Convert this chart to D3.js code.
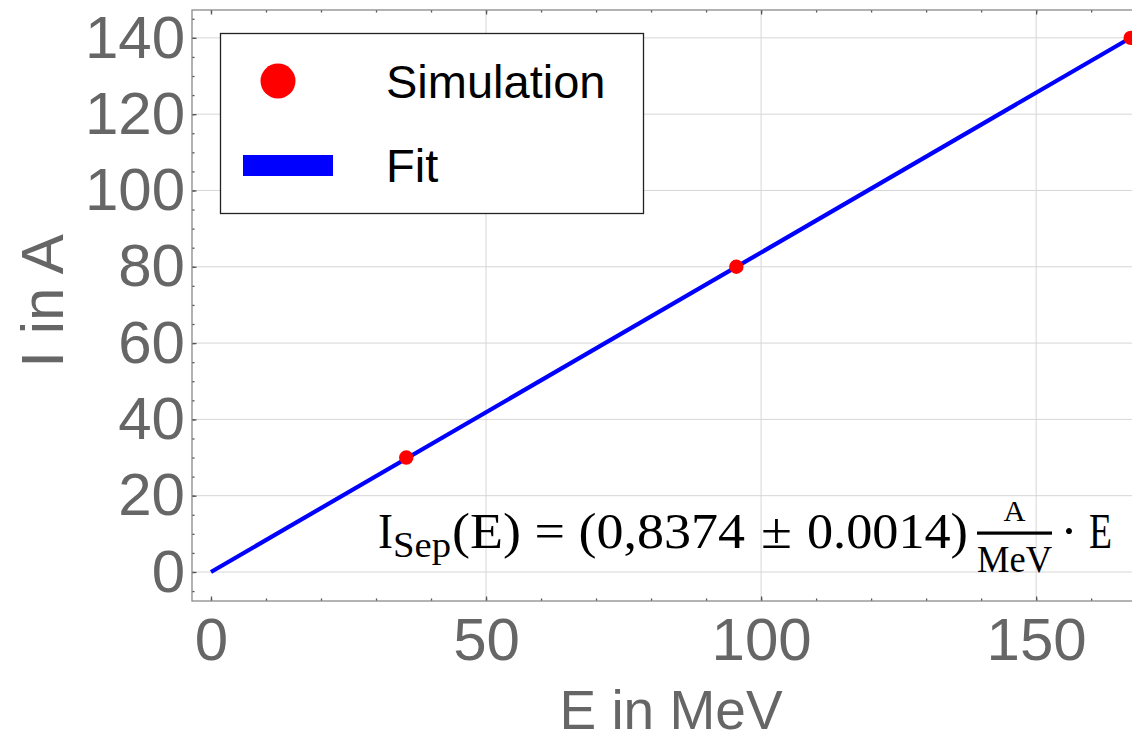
<!DOCTYPE html>
<html>
<head>
<meta charset="utf-8">
<script src="https://cdn.jsdelivr.net/npm/d3@7/dist/d3.min.js"></script>
<style>
  html, body { margin: 0; padding: 0; background: #fff; }
  svg { display: block; }
</style>
</head>
<body>
<svg id="chart" width="1132" height="741"></svg>
<script>
// Separator current vs. beam energy
const energyMeV = [35.5, 95.5, 167.2];
const currentA = [30, 80, 140];
const fitSlope = 0.8374;          // A / MeV
const fitRange = [0, 167.2];      // MeV

const xMajorTicks = [0, 50, 100, 150];
const xMinorTicks = d3.range(0, 171, 10);
const yMajorTicks = [0, 20, 40, 60, 80, 100, 120, 140];
const yMinorTicks = d3.range(-5, 148, 5);
const xGridTicks = [50, 100, 150];

const legendLabels = ["Simulation", "Fit"];

const svg = d3.select("#chart");

// Plot frame (right side runs past the window)
const frame = { left: 192, right: 1150, top: 10, bottom: 601 };
const x = d3.scaleLinear().domain([-3.45, 170.7]).range([frame.left, frame.right]);
const y = d3.scaleLinear().domain([-7.6, 147.3]).range([frame.bottom, frame.top]);

const labelColor = "#666";
const sansFont = "'Liberation Sans', Arial, sans-serif";
const serifFont = "'Liberation Serif', 'Times New Roman', serif";

// Grid lines
const grid = svg.append("g");
grid.selectAll("line.h").data(yMajorTicks).join("line")
  .attr("x1", frame.left).attr("x2", frame.right)
  .attr("y1", d => y(d)).attr("y2", d => y(d))
  .attr("stroke", "#d6d6d6").attr("stroke-width", 1);
grid.selectAll("line.v").data(xGridTicks).join("line")
  .attr("x1", d => x(d)).attr("x2", d => x(d))
  .attr("y1", frame.top).attr("y2", frame.bottom)
  .attr("stroke", "#d6d6d6").attr("stroke-width", 1);

// Axes
function styleAxis(g) {
  g.select(".domain").remove();
  g.selectAll(".tick line").attr("stroke", "#555").attr("stroke-width", 1.3);
  g.selectAll(".tick text").attr("fill", labelColor)
    .attr("font-family", sansFont).attr("font-size", 60);
}

svg.append("g").attr("transform", `translate(0,${frame.bottom})`)
  .call(d3.axisBottom(x).tickValues(xMinorTicks).tickSize(-2.5).tickFormat(""))
  .call(styleAxis);
svg.append("g").attr("transform", `translate(0,${frame.bottom})`)
  .call(d3.axisBottom(x).tickValues(xMajorTicks).tickSize(-4.5).tickPadding(16).tickFormat(d3.format("d")))
  .call(styleAxis);

svg.append("g").attr("transform", `translate(0,${frame.top})`)
  .call(d3.axisTop(x).tickValues(xMinorTicks).tickSize(-2.5).tickFormat(""))
  .call(styleAxis);
svg.append("g").attr("transform", `translate(0,${frame.top})`)
  .call(d3.axisTop(x).tickValues(xMajorTicks).tickSize(-4.5).tickFormat(""))
  .call(styleAxis);

svg.append("g").attr("transform", `translate(${frame.left},0)`)
  .call(d3.axisLeft(y).tickValues(yMinorTicks).tickSize(-2.5).tickFormat(""))
  .call(styleAxis);
svg.append("g").attr("transform", `translate(${frame.left},0)`)
  .call(d3.axisLeft(y).tickValues(yMajorTicks).tickSize(-4.5).tickPadding(7).tickFormat(d3.format("d")))
  .call(styleAxis);

// Frame
svg.append("rect")
  .attr("x", frame.left).attr("y", frame.top)
  .attr("width", frame.right - frame.left).attr("height", frame.bottom - frame.top)
  .attr("fill", "none").attr("stroke", "#8a8a8a").attr("stroke-width", 1.3);

// Axis titles
svg.append("text")
  .attr("x", 671).attr("y", 729)
  .attr("text-anchor", "middle")
  .attr("fill", labelColor).attr("font-family", sansFont).attr("font-size", 55)
  .text("E in MeV");
svg.append("text")
  .attr("transform", "translate(63,301) rotate(-90)")
  .attr("text-anchor", "middle")
  .attr("fill", labelColor).attr("font-family", sansFont).attr("font-size", 60)
  .text("I in A");

// Fit line and simulation points
svg.append("clipPath").attr("id", "plotClip")
  .append("rect")
  .attr("x", frame.left).attr("y", frame.top)
  .attr("width", frame.right - frame.left).attr("height", frame.bottom - frame.top);

const plot = svg.append("g").attr("clip-path", "url(#plotClip)");
const fitLine = d3.line().x(d => x(d)).y(d => y(fitSlope * d));
plot.append("path")
  .datum(fitRange)
  .attr("d", fitLine)
  .attr("fill", "none")
  .attr("stroke", "#0000ff")
  .attr("stroke-width", 4.2);

plot.selectAll("circle.pt").data(energyMeV).join("circle")
  .attr("class", "pt")
  .attr("cx", d => x(d))
  .attr("cy", (d, i) => y(currentA[i]))
  .attr("r", 7.2)
  .attr("fill", "#ff0000");

// Legend
const legend = svg.append("g");
legend.append("rect")
  .attr("x", 220.5).attr("y", 33.5).attr("width", 423).attr("height", 180)
  .attr("fill", "#fff").attr("stroke", "#222").attr("stroke-width", 1.3);
legend.append("circle").attr("cx", 278).attr("cy", 81).attr("r", 17.5).attr("fill", "#ff0000");
legend.append("rect").attr("x", 243).attr("y", 155).attr("width", 90).attr("height", 21).attr("fill", "#0000ff");
legend.selectAll("text").data(legendLabels).join("text")
  .attr("x", 386)
  .attr("y", (d, i) => [98, 182][i])
  .attr("fill", "#000").attr("font-family", sansFont).attr("font-size", 47)
  .text(d => d);

// Fit equation
const eq = svg.append("g").attr("fill", "#000").attr("font-family", serifFont);
function piece(txt, xPos, base, size, width, anchor) {
  const t = eq.append("text")
    .attr("x", xPos).attr("y", base).attr("font-size", size)
    .attr("text-anchor", anchor || "start")
    .text(txt);
  if (width) t.attr("textLength", width).attr("lengthAdjust", "spacingAndGlyphs");
  return t;
}
piece("I", 378, 548, 51, 15);
piece("Sep", 393, 557, 35, 58);
piece("(E) = (0,8374", 452, 548, 51, 293);
piece("\u00B1", 761, 548, 51, 31);
piece("0.0014)", 807, 548, 51, 161);
piece("A", 1014.5, 521, 30, 22, "middle");
eq.append("rect").attr("x", 977).attr("y", 531.5).attr("width", 75).attr("height", 3.2);
piece("MeV", 977, 572, 37, 75);
piece("\u00B7", 1069, 548, 51, null, "middle");
piece("E", 1089, 548, 51, 23);
</script>
</body>
</html>
